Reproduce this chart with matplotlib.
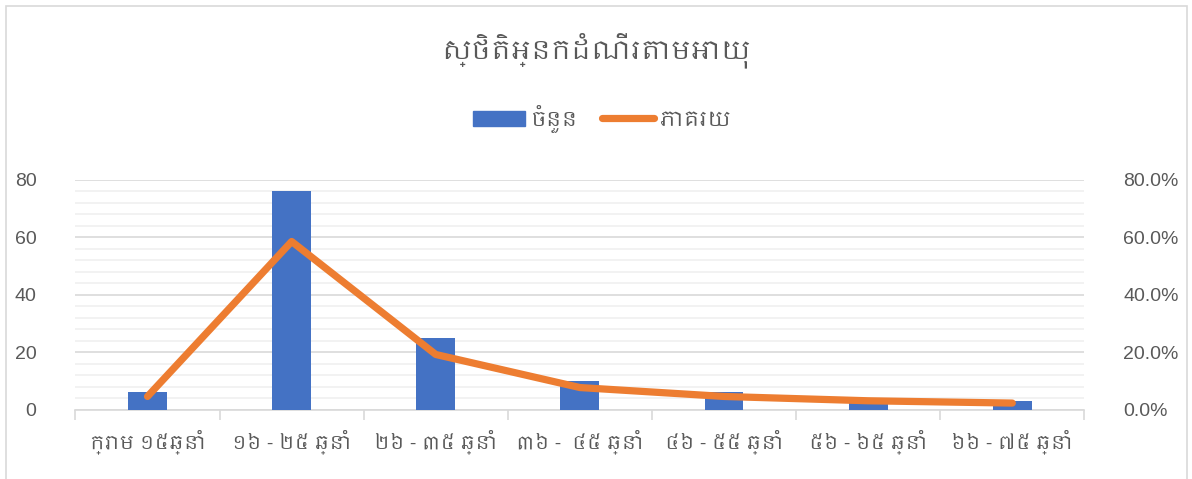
import matplotlib
matplotlib.use("Agg")
import matplotlib.pyplot as plt
from matplotlib import font_manager
from matplotlib.ticker import MultipleLocator, PercentFormatter
from matplotlib.patches import Rectangle
from matplotlib.lines import Line2D
import numpy as np

# data
categories = ["ក្រោម ១៥ឆ្នាំ", "១៦ - ២៥ ឆ្នាំ", "២៦ - ៣៥ ឆ្នាំ", "៣៦ -  ៤៥ ឆ្នាំ",
              "៤៦ - ៥៥ ឆ្នាំ", "៥៦ - ៦៥ ឆ្នាំ", "៦៦ - ៧៥ ឆ្នាំ"]
counts = [6, 76, 25, 10, 6, 4, 3]
percent = [4.6, 58.5, 19.2, 7.7, 4.6, 3.1, 2.3]
title = "ស្ថិតិអ្នកដំណើរតាមអាយុ"
label_count = "ចំនួន"
label_pct = "ភាគរយ"

# look for installed fonts that have Khmer glyphs, prefer proportional ones
khmer_fonts = []
for f in font_manager.fontManager.ttflist:
    try:
        cmap = matplotlib.ft2font.FT2Font(f.fname).get_charmap()
    except Exception:
        continue
    if 0x1780 in cmap and 0x17E1 in cmap and f.name not in khmer_fonts:
        khmer_fonts.append(f.name)
khmer_fonts.sort(key=lambda n: (0 if "Khmer" in n else 1, 1 if "Mono" in n else 0))
fam = ["Liberation Sans"] + khmer_fonts[:1] + ["DejaVu Sans"]
plt.rcParams['font.family'] = fam

txt = "#595959"
blue = "#4472C4"
orange = "#ED7D31"

fig = plt.figure(figsize=(11.92, 4.79), dpi=100)
ax = fig.add_axes([0.0633, 0.1447, 0.8464, 0.4802])
ax2 = ax.twinx()

x = np.arange(len(categories))
ax.bar(x, counts, width=0.27, color=blue, zorder=3)
ax2.plot(x, percent, color=orange, lw=5.2, solid_capstyle='round',
         solid_joinstyle='round', zorder=4)

ax.set_xlim(-0.5, len(categories) - 0.5)
ax.set_ylim(0, 80)
ax2.set_ylim(0, 80)
ax.yaxis.set_major_locator(MultipleLocator(20))
ax.yaxis.set_minor_locator(MultipleLocator(4))
ax2.yaxis.set_major_locator(MultipleLocator(20))
ax2.yaxis.set_major_formatter(PercentFormatter(decimals=1))

ax.grid(axis='y', which='major', color="#d9d9d9", lw=1.2, zorder=0)
ax.grid(axis='y', which='minor', color="#f0f0f0", lw=1.2, zorder=0)
ax.set_axisbelow(True)

for a in (ax, ax2):
    for s in a.spines.values():
        s.set_visible(False)
ax.spines['bottom'].set_visible(True)
ax.spines['bottom'].set_color("#d9d9d9")
ax.spines['bottom'].set_linewidth(1.2)

ax.tick_params(axis='y', which='both', length=0, pad=28, labelsize=14, labelcolor=txt)
ax2.tick_params(axis='y', which='both', length=0, pad=28, labelsize=14, labelcolor=txt)

ax.set_xticks(x)
ax.set_xticklabels(categories, fontsize=14, color=txt)
ax.tick_params(axis='x', which='major', length=0, pad=14)
ax.set_xticks(np.arange(-0.5, len(categories)), minor=True)
ax.tick_params(axis='x', which='minor', length=7, color="#d9d9d9", width=1.2)

fig.text(0.5, 0.895, title, ha='center', va='center', fontsize=19, color=txt)

handles = [Rectangle((0, 0), 1, 1, color=blue),
           Line2D([], [], color=orange, lw=5.2, solid_capstyle='round')]
fig.legend(handles, [label_count, label_pct], loc='center', bbox_to_anchor=(0.505, 0.752),
           ncol=2, frameon=False, fontsize=15, labelcolor=txt, handlelength=2.5,
           handletextpad=0.3, columnspacing=1.1)

fig.patches.append(Rectangle((6 / 1192, -0.02), 1181 / 1192, 1.02 - 6 / 479,
                             transform=fig.transFigure, fill=False,
                             edgecolor="#d9d9d9", lw=1.2))

fig.savefig("out.png", dpi=100, facecolor="white")
